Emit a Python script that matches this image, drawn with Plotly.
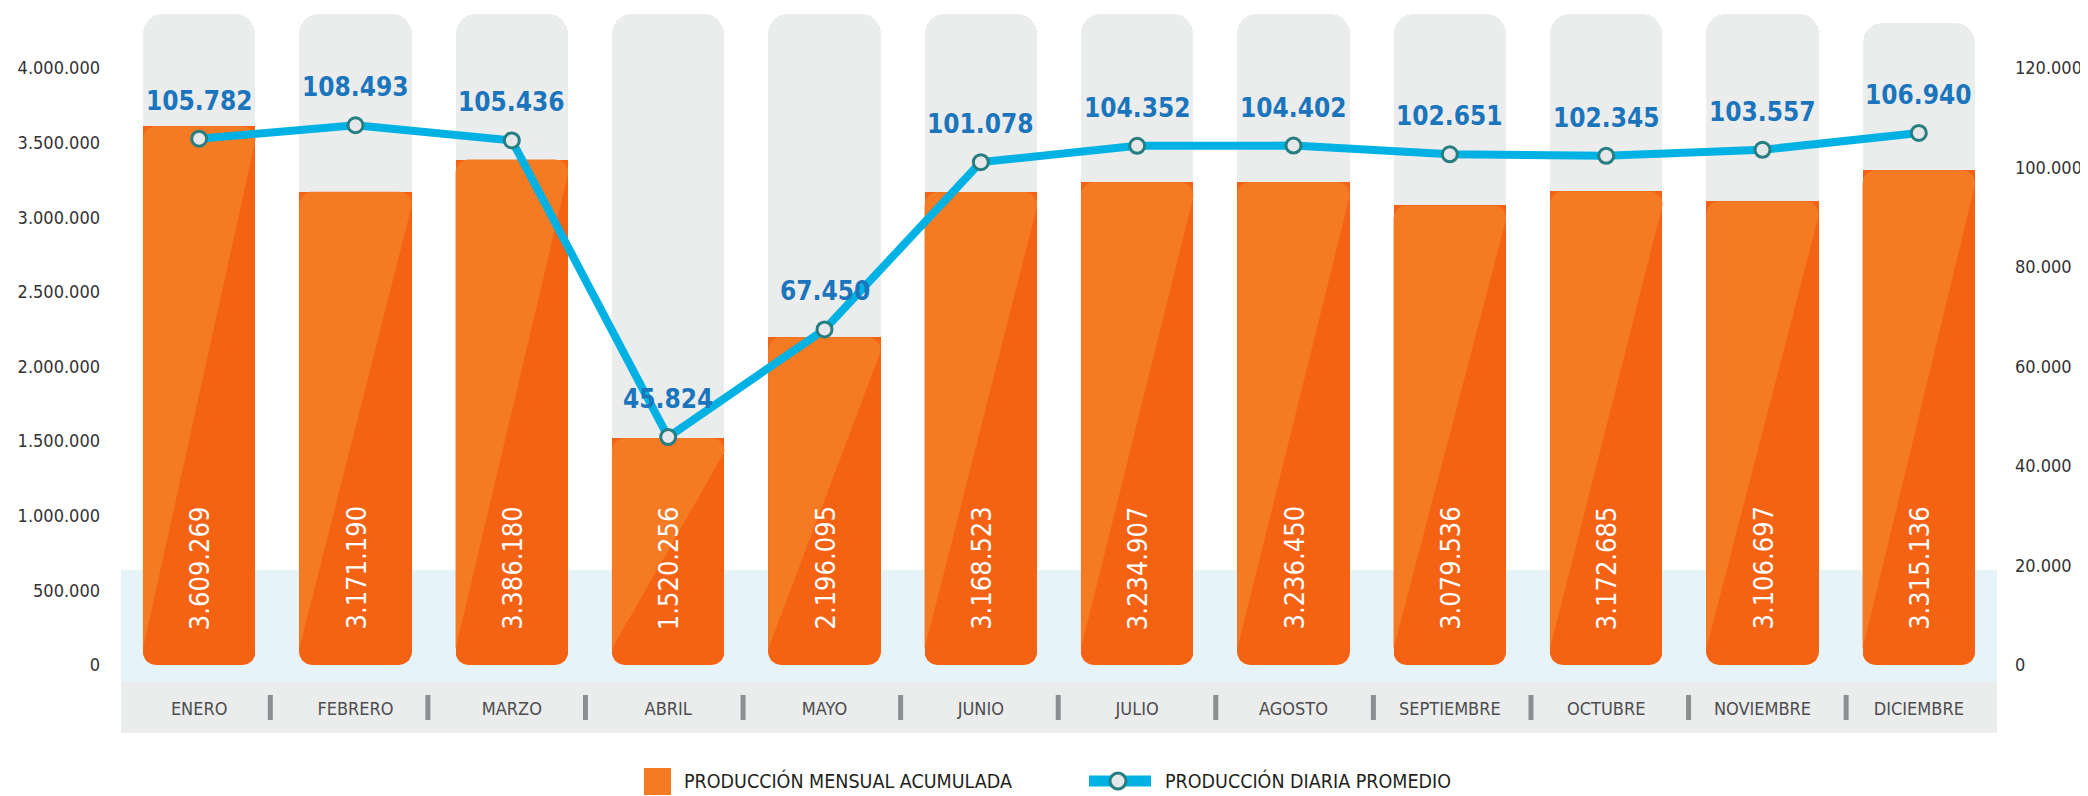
import math
import plotly.graph_objects as go

# datos del grafico
meses = ["ENERO", "FEBRERO", "MARZO", "ABRIL", "MAYO", "JUNIO", "JULIO",
         "AGOSTO", "SEPTIEMBRE", "OCTUBRE", "NOVIEMBRE", "DICIEMBRE"]
produccion_mensual = [3609269, 3171190, 3386180, 1520256, 2196095, 3168523,
                      3234907, 3236450, 3079536, 3172685, 3106697, 3315136]
produccion_diaria = [105782, 108493, 105436, 45824, 67450, 101078,
                     104352, 104402, 102651, 102345, 103557, 106940]
# alto de las columnas grises del fondo
fondo_alto = [4362000] * 11 + [4301000]

# colores
NARANJA = "#F47A24"
NARANJA_OSCURO = "#F46214"
CELESTE = "#00B2E3"
AZUL = "#1B75BC"
GRIS = "#EBECEC"
BANDA = "#E6F4FA"
FUENTE = "Liberation Sans Narrow, DejaVu Sans Condensed, sans-serif"

# la pagina tiene 8px de margen en el body
OFF = 8
W, H = 2088 - OFF, 796 - OFF
L, R, T, B = 113, 91, 0, 114
PW, PH = W - L - R, H - T - B
Y_MIN, Y_MAX = -113900, 4402000
escala = PH / (Y_MAX - Y_MIN)  # px por unidad


def px_y(p):
    # pixeles -> unidades del eje y
    return p / escala


def paper_x(p):
    # p en pixeles de la pagina
    return (p - OFF - L) / PW


def paper_y(p):
    return (H - B - (p - OFF)) / PH


x = list(range(len(meses)))
ancho = 0.72
rx = 13 / (PW / len(meses))
ry = px_y(13)


def arco(cx, cy, a0, a1, n=10):
    xs, ys = [], []
    for k in range(n + 1):
        a = math.radians(a0 + (a1 - a0) * k / n)
        xs.append(cx + rx * math.cos(a))
        ys.append(cy + ry * math.sin(a))
    return xs, ys


# parte clara de cada barra y esquinas inferiores redondeadas
claro_x, claro_y = [], []
esq_x, esq_y = [], []
for i, v in zip(x, produccion_mensual):
    xl, xr = i - ancho / 2, i + ancho / 2
    ax1, ay1 = arco(xl + rx, v - ry, 180, 90)
    ax2, ay2 = arco(xr - rx, v - ry, 90, 0)
    claro_x += ax1 + ax2 + [xr, xl, xl, None]
    claro_y += ay1 + ay2 + [v - px_y(14), px_y(16), v - ry, None]

    bx, by = arco(xl + rx, ry, 180, 270)
    esq_x += [xl - 0.005] + bx + [xl - 0.005, None]
    esq_y += [px_y(-1)] + by + [px_y(-1), None]
    bx, by = arco(xr - rx, ry, 0, -90)
    esq_x += [xr + 0.005] + bx + [xr + 0.005, None]
    esq_y += [px_y(-1)] + by + [px_y(-1), None]

fig = go.Figure()

fig.add_trace(go.Bar(
    x=x, y=[t - px_y(95) for t in fondo_alto], base=px_y(95), width=ancho,
    marker=dict(color=GRIS, cornerradius=20, line_width=0),
    hoverinfo="skip", showlegend=False))

fig.add_trace(go.Bar(
    x=x, y=produccion_mensual, width=ancho, name="PRODUCCIÓN MENSUAL ACUMULADA",
    marker=dict(color=NARANJA_OSCURO, cornerradius=13, line_width=0),
    showlegend=False))

fig.add_trace(go.Scatter(
    x=claro_x, y=claro_y, mode="lines", fill="toself", fillcolor=NARANJA,
    line=dict(width=0), hoverinfo="skip", showlegend=False))

fig.add_trace(go.Scatter(
    x=esq_x, y=esq_y, mode="lines", fill="toself", fillcolor=BANDA,
    line=dict(width=0), hoverinfo="skip", showlegend=False))

fig.add_trace(go.Scatter(
    x=x, y=produccion_diaria, yaxis="y2", mode="lines+markers",
    name="PRODUCCIÓN DIARIA PROMEDIO",
    line=dict(color=CELESTE, width=8),
    marker=dict(size=15, color="#E6E7E8", line=dict(color="#267E82", width=3)),
    showlegend=False))


def fmt(v):
    return f"{v:,}".replace(",", ".")


anotaciones = []
for i, v in zip(x, produccion_mensual):
    anotaciones.append(dict(
        x=i, y=px_y(33), xref="x", yref="y", text=fmt(v), textangle=-90,
        showarrow=False, xanchor="center", yanchor="bottom",
        font=dict(family=FUENTE, size=27, color="white")))
for i, v in zip(x, produccion_diaria):
    anotaciones.append(dict(
        x=i, y=v, xref="x", yref="y2", text="<b>" + fmt(v) + "</b>",
        showarrow=False, xanchor="center", yanchor="bottom", yshift=21,
        font=dict(family=FUENTE, size=26, color=AZUL)))

# leyenda dibujada a mano
anotaciones.append(dict(
    x=paper_x(682), y=paper_y(781), xref="paper", yref="paper",
    text="PRODUCCIÓN MENSUAL ACUMULADA", showarrow=False,
    xanchor="left", yanchor="middle", font=dict(family=FUENTE, size=19.5, color="#231F20")))
anotaciones.append(dict(
    x=paper_x(1163), y=paper_y(781), xref="paper", yref="paper",
    text="PRODUCCIÓN DIARIA PROMEDIO", showarrow=False,
    xanchor="left", yanchor="middle", font=dict(family=FUENTE, size=19.5, color="#231F20")))

formas = [
    # banda celeste inferior
    dict(type="rect", xref="paper", yref="y", x0=0, x1=1, y0=Y_MIN, y1=px_y(95),
         fillcolor=BANDA, line_width=0, layer="below"),
    # banda gris de los meses
    dict(type="rect", xref="paper", yref="paper", x0=0, x1=1,
         y0=paper_y(733), y1=0, fillcolor=GRIS, line_width=0, layer="below"),
    # leyenda
    dict(type="rect", xref="paper", yref="paper", x0=paper_x(644), x1=paper_x(671),
         y0=paper_y(795), y1=paper_y(768), fillcolor=NARANJA, line_width=0),
    dict(type="line", xref="paper", yref="paper", x0=paper_x(1089), x1=paper_x(1151),
         y0=paper_y(781), y1=paper_y(781), line=dict(color=CELESTE, width=11)),
    dict(type="circle", xref="paper", yref="paper", x0=paper_x(1110), x1=paper_x(1126),
         y0=paper_y(789), y1=paper_y(773), fillcolor="#E6E7E8",
         line=dict(color="#267E82", width=3)),
]
# separadores entre meses
for i in x[:-1]:
    sx = i + 0.455 + 0.008 * i
    formas.append(dict(type="line", xref="x", yref="paper", x0=sx, x1=sx,
                       y0=paper_y(720), y1=paper_y(695),
                       line=dict(color="#8C8F91", width=5)))

fig.update_layout(
    width=W, height=H,
    margin=dict(l=L, r=R, t=T, b=B),
    paper_bgcolor="white", plot_bgcolor="rgba(0,0,0,0)",
    barmode="overlay", bargap=0,
    separators=",.",
    font=dict(family=FUENTE),
    xaxis=dict(range=[-0.5, 11.5], tickvals=x, ticktext=meses, automargin=False,
               showgrid=False, zeroline=False, showline=False, ticks="",
               ticklabelstandoff=14,
               tickfont=dict(family=FUENTE, size=18, color="#4D4D4F")),
    yaxis=dict(range=[Y_MIN, Y_MAX], tick0=0, dtick=500000, tickformat=",d",
               automargin=False,
               showgrid=False, zeroline=False, showline=False, ticks="",
               ticklabelstandoff=20,
               tickfont=dict(family=FUENTE, size=18, color="#333333")),
    yaxis2=dict(range=[Y_MIN * 0.03, Y_MAX * 0.03], tick0=0, dtick=20000,
                tickformat=",d", overlaying="y", side="right", automargin=False,
                showgrid=False, zeroline=False, showline=False, ticks="",
                ticklabelstandoff=17,
                tickfont=dict(family=FUENTE, size=18, color="#333333")),
    annotations=anotaciones,
    shapes=formas,
    showlegend=False,
)

fig.write_html("out.html")
